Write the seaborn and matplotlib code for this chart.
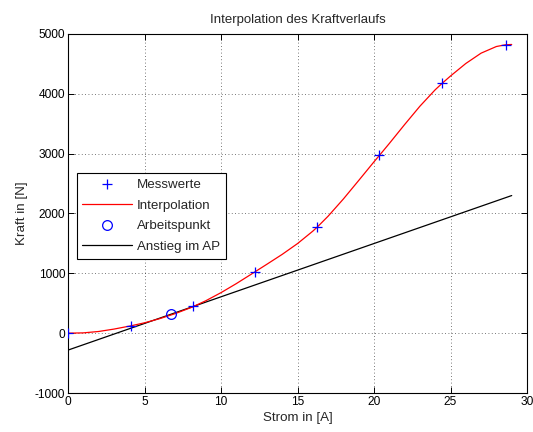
import matplotlib
matplotlib.use("Agg")
import matplotlib.pyplot as plt
import seaborn as sns
import pandas as pd

# Measured current/force pairs
strom_mess = [0.0, 4.1, 8.2, 12.25, 16.3, 20.35, 24.45, 28.6]
kraft_mess = [0, 122, 446, 1030, 1775, 2970, 4175, 4820]

# Interpolated force curve
strom_interp = [0, 1, 2, 3, 4, 4.1, 5, 6, 7, 8, 8.2, 9, 10, 11, 12, 12.25,
                13, 14, 15, 16, 16.3, 17, 18, 19, 20, 20.35, 21, 22, 23, 24,
                24.45, 25, 26, 27, 28, 28.6, 29]
kraft_interp = [0, 5, 28, 68, 117, 122, 173, 243, 326, 424, 446, 541, 677,
                828, 989, 1030, 1152, 1317, 1497, 1705, 1775, 1955, 2243,
                2552, 2864, 2970, 3170, 3486, 3793, 4068, 4175, 4298, 4507,
                4680, 4791, 4820, 4825]

# Operating point and the tangent through it
strom_ap = [6.75]
kraft_ap = [318]
strom_tangente = [0, 29]
kraft_tangente = [-283, 2300]

x_ticks = [0, 5, 10, 15, 20, 25, 30]
y_ticks = [-1000, 0, 1000, 2000, 3000, 4000, 5000]

sns.set_style("ticks")
plt.rcParams["font.family"] = ["Liberation Sans", "DejaVu Sans"]
plt.rcParams["font.size"] = 8.6

fig = plt.figure(figsize=(5.33, 4.32), dpi=100)
ax = fig.add_axes([68 / 533, 1 - 393 / 432, (527 - 68) / 533, (393 - 34) / 432])

df_mess = pd.DataFrame({"x": strom_mess, "y": kraft_mess})
df_interp = pd.DataFrame({"x": strom_interp, "y": kraft_interp})
df_ap = pd.DataFrame({"x": strom_ap, "y": kraft_ap})
df_tan = pd.DataFrame({"x": strom_tangente, "y": kraft_tangente})

sns.lineplot(data=df_mess, x="x", y="y", ax=ax, estimator=None, sort=False,
             linestyle="", marker="+", markersize=7.2, mew=0.9, color="blue",
             markeredgecolor="blue", label="Messwerte", zorder=5)
sns.lineplot(data=df_interp, x="x", y="y", ax=ax, estimator=None, sort=False,
             color="red", linewidth=0.9, label="Interpolation", zorder=3)
sns.lineplot(data=df_ap, x="x", y="y", ax=ax, estimator=None, sort=False,
             linestyle="", marker="o", markersize=7, mew=0.9,
             markerfacecolor="none", markeredgecolor="blue", color="blue",
             label="Arbeitspunkt", zorder=6)
sns.lineplot(data=df_tan, x="x", y="y", ax=ax, estimator=None, sort=False,
             color="black", linewidth=0.9, label="Anstieg im AP", zorder=2)

ax.set_xlim(0, 30)
ax.set_ylim(-1000, 5000)
ax.set_xticks(x_ticks)
ax.set_yticks(y_ticks)
ax.set_xticklabels([str(v) for v in x_ticks])
ax.set_yticklabels([str(v) for v in y_ticks])

ax.grid(True, linestyle=(0, (1, 3)), color="black", linewidth=0.6, alpha=0.7)
ax.set_axisbelow(True)
for side in ["top", "right", "bottom", "left"]:
    ax.spines[side].set_visible(True)
    ax.spines[side].set_color("black")
    ax.spines[side].set_linewidth(0.8)
ax.tick_params(direction="in", length=4, width=0.7, top=True, right=True,
               colors="black", labelsize=8.6, pad=2)

ax.set_title("Interpolation des Kraftverlaufs", fontsize=9.5, pad=8)
ax.set_xlabel("Strom in [A]", fontsize=9.6, labelpad=3)
ax.set_ylabel("Kraft in [N]", fontsize=9.6, labelpad=5)

leg = ax.legend(loc="upper left", bbox_to_anchor=(0.019, 0.612),
                borderaxespad=0, frameon=True, fancybox=False, shadow=False,
                handlelength=3.7, handletextpad=0.4, labelspacing=0.62,
                borderpad=0.42, fontsize=9.6)
leg.get_frame().set_edgecolor("black")
leg.get_frame().set_linewidth(0.8)
leg.get_frame().set_facecolor("white")
leg.get_frame().set_alpha(1)

fig.savefig("out.png", dpi=100, facecolor="white")
